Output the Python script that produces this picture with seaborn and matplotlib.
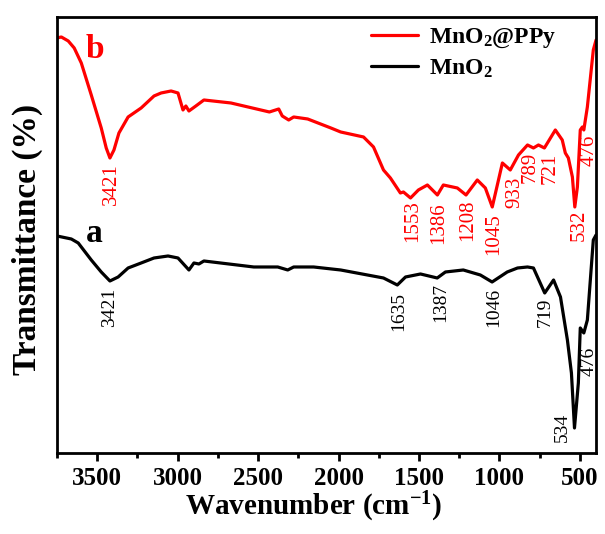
import numpy as np
import pandas as pd
import matplotlib
matplotlib.use("Agg")
import matplotlib.pyplot as plt
from matplotlib.ticker import MultipleLocator
import seaborn as sns

# FTIR spectra (wavenumber in cm^-1, transmittance in arbitrary offset units)
wn_ppy = [3750, 3723, 3680, 3643, 3599, 3537, 3475, 3444, 3421, 3396, 3365, 3308,
          3227, 3147, 3103, 3041, 2998, 2967, 2949, 2930, 2887, 2837, 2669, 2430,
          2372, 2350, 2310, 2279, 2192, 2048, 1987, 1845, 1783, 1721, 1678, 1616,
          1597, 1553, 1504, 1448, 1386, 1349, 1262, 1208, 1138, 1088, 1045, 982,
          933, 882, 826, 789, 758, 721, 653, 610, 591, 572, 547, 532, 516, 498,
          485, 476, 454, 417, 400]
t_ppy = [415, 416, 412, 405, 390, 358, 325, 305, 295, 303, 320, 336,
         345, 357, 360, 362, 360, 343, 347, 342, 347, 353, 350, 341,
         344, 337, 333, 336, 334, 325, 321, 316, 306, 283, 275, 260,
         261, 255, 263, 268, 258, 268, 265, 258, 273, 265, 246, 290,
         283, 298, 308, 305, 308, 305, 323, 313, 300, 295, 276, 246, 266, 323,
         326, 323, 346, 403, 413]

wn_mno2 = [3750, 3661, 3618, 3537, 3475, 3421, 3370, 3308, 3227, 3147, 3060, 2998,
           2930, 2899, 2868, 2837, 2527, 2378, 2316, 2279, 2155, 1987, 1721, 1635,
           1584, 1491, 1387, 1336, 1225, 1119, 1046, 952, 888, 826, 789, 719, 664,
           621, 578, 553, 534, 510, 498, 476, 454, 417, 400]
t_mno2 = [217, 214, 210, 193, 181, 172, 176, 185, 190, 195, 197, 195,
          183, 190, 189, 192, 186, 186, 183, 186, 186, 183, 175, 168,
          176, 179, 175, 181, 183, 178, 171, 181, 185, 186, 185, 160, 173,
          156, 113, 80, 25, 70, 125, 120, 133, 213, 218]

series_names = ["MnO$_2$@PPy", "MnO$_2$"]
series_colors = ["#ff0000", "#000000"]

# Peak annotations: text, x (cm^-1), y of the label top
ppy_peaks = ["3421", "1553", "1386", "1208", "1045", "933", "789", "721", "532", "476"]
ppy_label_x = [3413, 1540, 1380, 1200, 1037, 903, 810, 686, 505, 443]
ppy_label_y = [290, 253, 251, 253, 240, 276, 301, 300, 243, 318]

mno2_peaks = ["3421", "1635", "1387", "1046", "719", "476", "534"]
mno2_label_x = [3426, 1628, 1368, 1037, 716, 443, 611]
mno2_label_y = [165, 161, 170, 165, 155, 106, 40]

df = pd.concat([
    pd.DataFrame({"wn": wn_ppy, "T": t_ppy, "sample": series_names[0]}),
    pd.DataFrame({"wn": wn_mno2, "T": t_mno2, "sample": series_names[1]}),
], ignore_index=True)

sns.set_style("ticks")
plt.rcParams["font.family"] = ["Liberation Serif", "DejaVu Serif"]
plt.rcParams["mathtext.fontset"] = "custom"
plt.rcParams["mathtext.rm"] = "Liberation Serif:bold"
plt.rcParams["mathtext.it"] = "Liberation Serif:bold"
plt.rcParams["mathtext.bf"] = "Liberation Serif:bold"
for key in ["text.color", "axes.labelcolor", "xtick.color", "ytick.color",
            "axes.edgecolor"]:
    plt.rcParams[key] = "black"

fig = plt.figure(figsize=(6.05, 5.34), dpi=100)
ax = fig.add_axes([0.0942, 0.1517, 0.891, 0.8165])

sns.lineplot(data=df, x="wn", y="T", hue="sample", hue_order=series_names,
             palette=dict(zip(series_names, series_colors)), sort=False,
             estimator=None, linewidth=2.3, ax=ax)

ax.set_xlim(3750, 400)
ax.set_ylim(0, 436)
ax.set_yticks([])
ax.xaxis.set_major_locator(MultipleLocator(500))
ax.xaxis.set_minor_locator(MultipleLocator(250))
ax.tick_params(axis="x", which="major", length=6, width=2, direction="out", pad=4,
               labelsize=18, colors="black")
ax.tick_params(axis="x", which="minor", length=3.5, width=2, direction="out",
               colors="black")
for lab in ax.get_xticklabels():
    lab.set_fontweight("bold")
for sp in ax.spines.values():
    sp.set_visible(True)
    sp.set_linewidth(2)
    sp.set_color("black")

ax.set_xlabel("Wavenumber (cm$^{-1}$)", fontsize=21, fontweight="bold", labelpad=0,
              color="black")
ax.xaxis.set_label_coords(0.477, -0.085)
ax.set_ylabel("Transmittance (%)", fontsize=24, fontweight="bold", color="black")
ax.yaxis.set_label_coords(-0.026, 0.49)

for txt, x, y in zip(ppy_peaks, ppy_label_x, ppy_label_y):
    ax.text(x, y, txt, rotation=90, ha="center", va="top", fontsize=15,
            color=series_colors[0])
for txt, x, y in zip(mno2_peaks, mno2_label_x, mno2_label_y):
    ax.text(x, y, txt, rotation=90, ha="center", va="top", fontsize=14,
            color=series_colors[1])

ax.text(3513, 395, "b", fontsize=24, fontweight="bold", color=series_colors[0],
        ha="center", va="baseline")
ax.text(3519, 211, "a", fontsize=24, fontweight="bold", color=series_colors[1],
        ha="center", va="baseline")

leg = ax.legend(loc="upper left", bbox_to_anchor=(359 / 605, 1 - 15 / 534),
                bbox_transform=fig.transFigure, frameon=False, borderpad=0,
                handlelength=2.0, handletextpad=0.45, labelspacing=0.3,
                prop={"size": 17, "weight": "bold"})
for line in leg.get_lines():
    line.set_linewidth(2.3)
for t in leg.get_texts():
    t.set_color("black")

fig.savefig("out.png", dpi=100)
